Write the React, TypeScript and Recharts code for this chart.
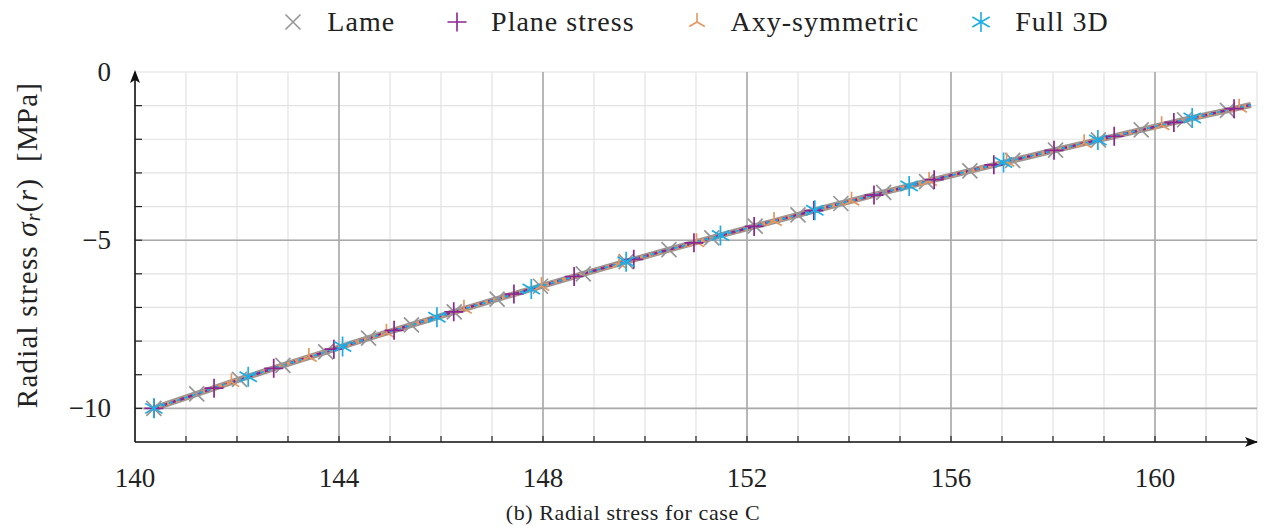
import React from 'react';
import { LineChart, Line, XAxis, YAxis, CartesianGrid, ReferenceLine, ReferenceDot, Legend } from 'recharts';

// ---- data ----
const lameR = [140.37, 141.21, 142.05, 142.9, 143.74, 144.58, 145.42, 146.26, 147.1, 147.95, 148.79, 149.63, 150.47, 151.31, 152.16, 153.0, 153.84, 154.68, 155.52, 156.37, 157.21, 158.05, 158.89, 159.73, 160.58, 161.42, 161.88];
const lameS = [-10.0, -9.57, -9.14, -8.72, -8.32, -7.91, -7.52, -7.13, -6.75, -6.37, -6.0, -5.64, -5.28, -4.93, -4.58, -4.25, -3.91, -3.58, -3.26, -2.94, -2.63, -2.32, -2.02, -1.72, -1.42, -1.14, -0.98];

const planeR = [140.37, 141.55, 142.72, 143.9, 145.08, 146.25, 147.43, 148.61, 149.78, 150.96, 152.14, 153.31, 154.49, 155.67, 156.84, 158.02, 159.2, 160.37, 161.55, 161.88];
const planeS = [-10.0, -9.4, -8.81, -8.24, -7.68, -7.13, -6.6, -6.08, -5.57, -5.08, -4.59, -4.12, -3.66, -3.2, -2.76, -2.33, -1.91, -1.5, -1.09, -0.98];

const axyR = [140.37, 141.89, 143.41, 144.93, 146.45, 147.97, 149.49, 151.01, 152.53, 154.05, 155.57, 157.09, 158.61, 160.13, 161.65, 161.88];
const axyS = [-10.0, -9.22, -8.47, -7.75, -7.04, -6.36, -5.7, -5.06, -4.43, -3.83, -3.24, -2.67, -2.12, -1.58, -1.06, -0.98];

const fullR = [140.37, 142.22, 144.07, 145.92, 147.77, 149.63, 151.48, 153.33, 155.18, 157.03, 158.88, 160.73, 161.88];
const fullS = [-10.0, -9.06, -8.16, -7.29, -6.45, -5.64, -4.86, -4.11, -3.39, -2.69, -2.02, -1.37, -0.98];

const xTicks = [140, 141, 142, 143, 144, 145, 146, 147, 148, 149, 150, 151, 152, 153, 154, 155, 156, 157, 158, 159, 160, 161, 162];
const xMajor = [144, 148, 152, 156, 160];
const yTicks = [-11, -10, -9, -8, -7, -6, -5, -4, -3, -2, -1, 0];
const yMajor = [-10, -5];

const seriesNames = ['Lame', 'Plane stress', 'Axy-symmetric', 'Full 3D'];

const toRows = (r: number[], s: number[]) => r.map((x, i) => ({ r: x, s: s[i] }));

const SERIF = '"Liberation Serif", "DejaVu Serif", serif';

type Kind = 'cross' | 'plus' | 'tri' | 'star';

const markerPath = (kind: Kind, cx: number, cy: number) => {
  if (kind === 'cross') {
    const d = 7.5;
    return `M${cx - d},${cy - d}L${cx + d},${cy + d}M${cx - d},${cy + d}L${cx + d},${cy - d}`;
  }
  if (kind === 'plus') {
    const d = 9.5;
    return `M${cx - d},${cy}L${cx + d},${cy}M${cx},${cy - d}L${cx},${cy + d}`;
  }
  if (kind === 'tri') {
    const d = 9;
    const c = d * Math.cos(Math.PI / 6);
    const s = d * Math.sin(Math.PI / 6);
    return `M${cx},${cy}L${cx},${cy - d}M${cx},${cy}L${cx - c},${cy + s}M${cx},${cy}L${cx + c},${cy + s}`;
  }
  const d = 10;
  const c = d * Math.cos(Math.PI / 6);
  const s = d * Math.sin(Math.PI / 6);
  return `M${cx},${cy - d}L${cx},${cy + d}M${cx - c},${cy - s}L${cx + c},${cy + s}M${cx - c},${cy + s}L${cx + c},${cy - s}`;
};

const series = [
  { name: seriesNames[0], rows: toRows(lameR, lameS), color: '#969696', width: 6, dash: undefined as string | undefined, kind: 'cross' as Kind },
  { name: seriesNames[2], rows: toRows(axyR, axyS), color: '#e5975f', width: 3.5, dash: undefined as string | undefined, kind: 'tri' as Kind },
  { name: seriesNames[1], rows: toRows(planeR, planeS), color: '#8e248f', width: 2.6, dash: '5 4', kind: 'plus' as Kind },
  { name: seriesNames[3], rows: toRows(fullR, fullS), color: '#1bade6', width: 2, dash: '4 4', kind: 'star' as Kind },
];

const legendOrder = [series[0], series[2], series[1], series[3]];

const makeDot = (kind: Kind, color: string, last: number) => (props: any) => {
  const { cx, cy, index } = props;
  if (cx == null || cy == null || index === last) return <g key={`d-${kind}-${index}`} />;
  return (
    <path key={`d-${kind}-${index}`} d={markerPath(kind, cx, cy)} stroke={color} strokeWidth={1.7} fill="none" />
  );
};

const XTick = (props: any) => {
  const { x, y, payload } = props;
  const v = payload.value as number;
  const major = xMajor.includes(v) || v === 140;
  return (
    <g>
      {v !== 140 && v !== 162 && <line x1={x} x2={x} y1={y} y2={y - 6} stroke="#222" strokeWidth={1.2} />}
      {major && (
        <text x={x} y={y + 45} textAnchor="middle" fontFamily={SERIF} fontSize={27} fill="#222">
          {v}
        </text>
      )}
    </g>
  );
};

const YTick = (props: any) => {
  const { x, y, payload } = props;
  const v = payload.value as number;
  const major = v % 5 === 0;
  const label = v < 0 ? `\u2212${Math.abs(v)}` : `${v}`;
  return (
    <g>
      {v !== -11 && v !== 0 && <line x1={x} x2={x + 7} y1={y} y2={y} stroke="#222" strokeWidth={1.2} />}
      {major && (
        <text x={x - 24} y={y} textAnchor="end" dominantBaseline="central" fontFamily={SERIF} fontSize={27} fill="#222">
          {label}
        </text>
      )}
    </g>
  );
};

const YLabel = () => {
  const cx = 27;
  const cy = 245;
  return (
    <text
      x={cx}
      y={cy}
      transform={`rotate(-90, ${cx}, ${cy})`}
      textAnchor="middle"
      dominantBaseline="central"
      fontFamily={SERIF}
      fontSize={29}
      letterSpacing={1.2}
      fill="#222"
    >
      <tspan>Radial stress </tspan>
      <tspan fontStyle="italic">σ</tspan>
      <tspan fontStyle="italic" fontSize={20} dy={6}>r</tspan>
      <tspan dy={-6}>(</tspan>
      <tspan fontStyle="italic">r</tspan>
      <tspan>)</tspan>
      <tspan dx={16}>[MPa]</tspan>
    </text>
  );
};

const XCaption = () => (
  <text x={633} y={520} textAnchor="middle" fontFamily={SERIF} fontSize={22} letterSpacing={0.6} fill="#222">
    (b) Radial stress for case C
  </text>
);

const LegendContent = () => (
  <div
    style={{
      width: 1266,
      height: 72,
      boxSizing: 'border-box',
      paddingLeft: 135,
      paddingRight: 9,
      display: 'flex',
      justifyContent: 'center',
      alignItems: 'flex-start',
      paddingTop: 4,
    }}
  >
    {legendOrder.map((s, i) => (
      <div key={s.name} style={{ display: 'flex', alignItems: 'center', marginLeft: i === 0 ? 0 : 52 }}>
        <svg width={20} height={20} style={{ marginRight: 24 }}>
          <path d={markerPath(s.kind, 10, 10)} stroke={s.color} strokeWidth={1.6} fill="none" />
        </svg>
        <span style={{ fontFamily: SERIF, fontSize: 28, letterSpacing: 1, color: '#222', lineHeight: '36px' }}>
          {s.name}
        </span>
      </div>
    ))}
  </div>
);

const ArrowRight = (props: any) => {
  const { cx, cy } = props;
  return <path d={`M${cx + 1},${cy}L${cx - 12},${cy - 5}L${cx - 9},${cy}L${cx - 12},${cy + 5}Z`} fill="#111" />;
};
const ArrowUp = (props: any) => {
  const { cx, cy } = props;
  return <path d={`M${cx},${cy - 2}L${cx - 5},${cy + 11}L${cx},${cy + 8}L${cx + 5},${cy + 11}Z`} fill="#111" />;
};

export default function App() {
  return (
    <div style={{ position: 'absolute', left: 0, top: 0, width: 1266, height: 528, background: '#fff' }}>
      <LineChart width={1266} height={528} margin={{ top: 0, right: 9, bottom: 0, left: 0 }}>
        <Legend verticalAlign="top" align="left" content={<LegendContent />} wrapperStyle={{ left: 0, top: 0, width: 1266 }} />
        <CartesianGrid stroke="#e2e2e2" strokeWidth={1.2} />
        {xMajor.map((v) => (
          <ReferenceLine key={`vx${v}`} x={v} stroke="#a9a9a9" strokeWidth={1.6} />
        ))}
        {yMajor.map((v) => (
          <ReferenceLine key={`hy${v}`} y={v} stroke="#a9a9a9" strokeWidth={1.6} />
        ))}
        <XAxis
          type="number"
          dataKey="r"
          domain={[140, 162]}
          ticks={xTicks}
          interval={0}
          allowDataOverflow
          height={86}
          tickSize={0}
          tickMargin={0}
          tickLine={false}
          axisLine={{ stroke: '#111', strokeWidth: 1.6 }}
          tick={<XTick />}
          label={<XCaption />}
        />
        <YAxis
          type="number"
          dataKey="s"
          domain={[-11, 0]}
          ticks={yTicks}
          interval={0}
          allowDataOverflow
          width={135}
          tickSize={0}
          tickMargin={0}
          tickLine={false}
          axisLine={{ stroke: '#111', strokeWidth: 1.6 }}
          tick={<YTick />}
          label={<YLabel />}
        />
        {series.map((s) => (
          <Line
            key={s.name}
            data={s.rows}
            dataKey="s"
            name={s.name}
            type="monotone"
            stroke={s.color}
            strokeWidth={s.width}
            strokeDasharray={s.dash}
            dot={makeDot(s.kind, s.color, s.rows.length - 1)}
            activeDot={false}
            isAnimationActive={false}
            legendType="none"
          />
        ))}
        <ReferenceDot x={162} y={-11} r={0} ifOverflow="visible" shape={<ArrowRight />} />
        <ReferenceDot x={140} y={0} r={0} ifOverflow="visible" shape={<ArrowUp />} />
      </LineChart>
    </div>
  );
}
